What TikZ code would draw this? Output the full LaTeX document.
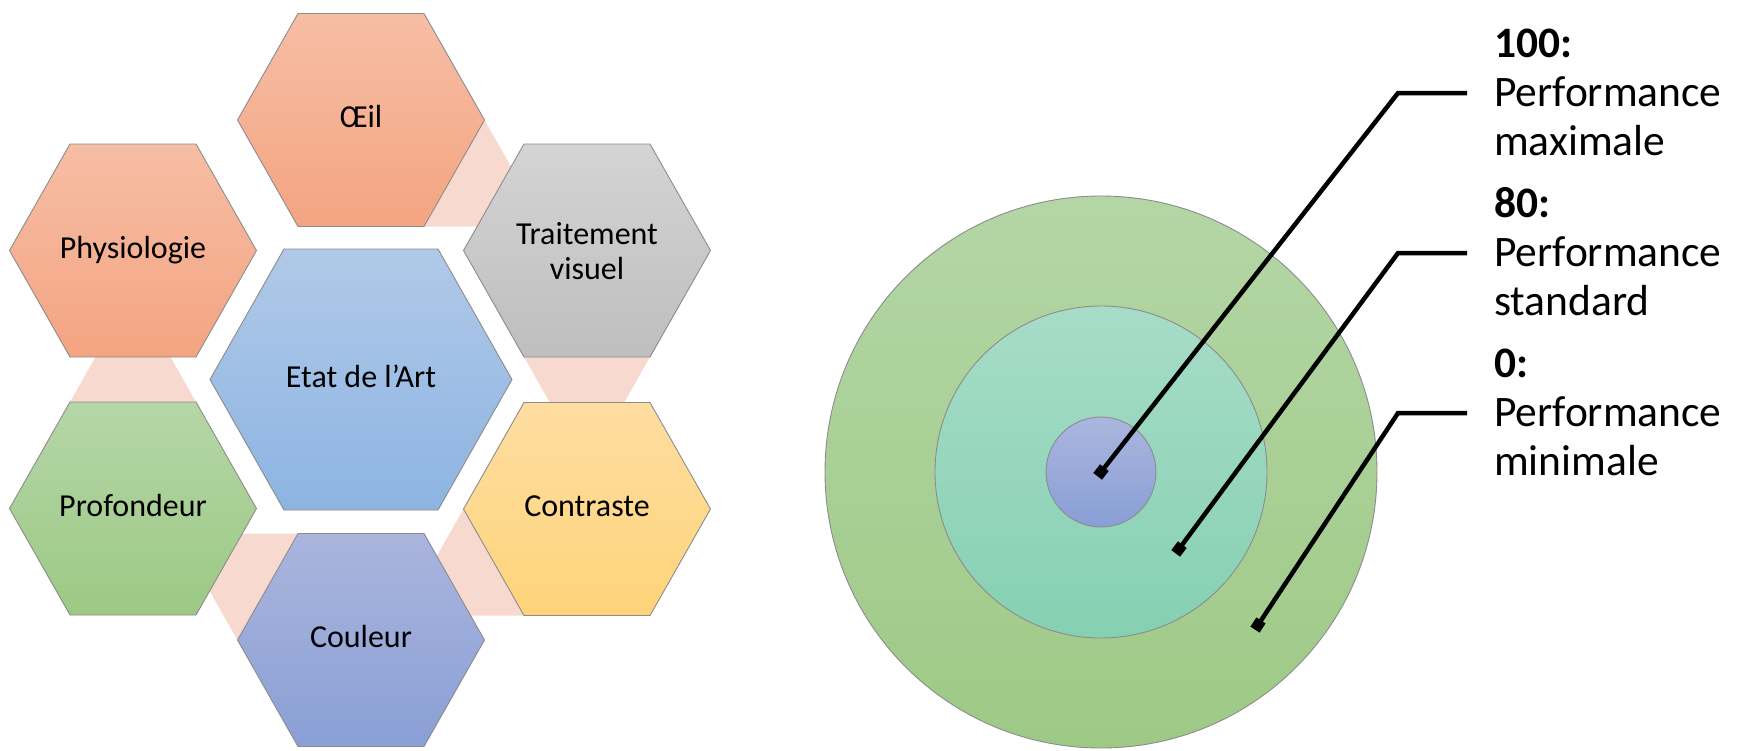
\documentclass[tikz,border=0pt]{standalone}
\usepackage{fontspec}
\setmainfont{Carlito}
\definecolor{salmonT}{HTML}{F6BEA5}
\definecolor{salmonB}{HTML}{F4A481}
\definecolor{grayT}{HTML}{D4D4D4}
\definecolor{grayB}{HTML}{BEBEBE}
\definecolor{blueT}{HTML}{B0C9E8}
\definecolor{blueB}{HTML}{8DB4E2}
\definecolor{yellowT}{HTML}{FEDDA1}
\definecolor{yellowB}{HTML}{FED47A}
\definecolor{greenT}{HTML}{B5D6A7}
\definecolor{greenB}{HTML}{9CC984}
\definecolor{violetT}{HTML}{AAB5DD}
\definecolor{violetB}{HTML}{8A9FD6}
\definecolor{linkpink}{HTML}{F8D9CF}
\definecolor{hexgray}{HTML}{8C8C8C}
\definecolor{outerT}{HTML}{B4D6A6}
\definecolor{outerB}{HTML}{9EC985}
\definecolor{midT}{HTML}{A7DCC8}
\definecolor{midB}{HTML}{85D0B2}
\definecolor{innerT}{HTML}{AAB6DE}
\definecolor{innerB}{HTML}{899ED6}
\newcommand{\hexagonpath}[6]{%
  \path[#1] ({#2-#4},{#3}) -- ({#2-#5},{#3-#6}) -- ({#2+#5},{#3-#6}) -- ({#2+#4},{#3})
    -- ({#2+#5},{#3+#6}) -- ({#2-#5},{#3+#6}) -- cycle;}
\begin{document}
\begin{tikzpicture}[x=1pt,y=-1pt,
  hexline/.style={draw=hexgray, line width=0.9pt},
  hextext/.style={font=\fontsize{32}{35}\selectfont, text height=21pt, text depth=6pt, inner sep=0},
  hextwo/.style={font=\fontsize{32}{35}\selectfont, inner sep=0, align=center},
  link/.style={fill=linkpink},
  ringline/.style={draw=hexgray, line width=0.9pt},
  callout/.style={line width=4.5pt, line join=miter},
  tipmark/.style={fill=black, shape=rectangle, minimum size=11pt, inner sep=0},
  labeltext/.style={font=\fontsize{43.5}{49}\selectfont, anchor=base west, inner sep=0}]
\useasboundingbox (0,0) rectangle (1761,750);
% pink links (behind)
\fill[link] (484.5,120) -- (545,226.5) -- (424,226.5) -- cycle;
\fill[link] (524,357) -- (650,357) -- (587,468) -- cycle;
\fill[link] (463.5,509) -- (524,615.5) -- (403,615.5) -- cycle;
\fill[link] (237.5,640) -- (298,533.5) -- (177,533.5) -- cycle;
\fill[link] (70,402) -- (196,402) -- (133,291) -- cycle;
% hexagons
\hexagonpath{hexline, top color=salmonT, bottom color=salmonB}{361}{120}{123.5}{63}{106.5}
\hexagonpath{hexline, top color=salmonT, bottom color=salmonB}{133}{250.5}{123.5}{63}{106.5}
\hexagonpath{hexline, top color=grayT, bottom color=grayB}{587}{250.5}{123.5}{63}{106.5}
\hexagonpath{hexline, top color=blueT, bottom color=blueB}{361}{379.5}{151}{77}{130.5}
\hexagonpath{hexline, top color=greenT, bottom color=greenB}{133}{508.5}{123.5}{63}{106.5}
\hexagonpath{hexline, top color=yellowT, bottom color=yellowB}{587}{509}{123.5}{63}{106.5}
\hexagonpath{hexline, top color=violetT, bottom color=violetB}{361}{640}{123.5}{63}{106.5}
\node[hextext] (oeil) at (361,120) {Œil};
\node[hextext] (phys) at (133,250.5) {Physiologie};
\node[hextwo] (trait) at (587,251.5) {Traitement\\visuel};
\node[hextext] (etat) at (361,379.5) {Etat de l’Art};
\node[hextext] (prof) at (133,508.5) {Profondeur};
\node[hextext] (contr) at (587,509) {Contraste};
\node[hextext] (coul) at (361,640) {Couleur};
% target circles
\coordinate (c0) at (1101,472);
\path[ringline, top color=outerT, bottom color=outerB] (c0) circle[radius=276pt];
\path[ringline, top color=midT, bottom color=midB] (c0) circle[radius=166pt];
\path[ringline, top color=innerT, bottom color=innerB] (c0) circle[radius=55pt];
% labels
\node[labeltext] (l1a) at (1494,57) {\textbf{100:}};
\node[labeltext] (l1b) at (1494,106) {Performance};
\node[labeltext] (l1c) at (1494,155) {maximale};
\node[labeltext] (l2a) at (1494,217) {\textbf{80:}};
\node[labeltext] (l2b) at (1494,266) {Performance};
\node[labeltext] (l2c) at (1494,315) {standard};
\node[labeltext] (l3a) at (1494,377) {\textbf{0:}};
\node[labeltext] (l3b) at (1494,426) {Performance};
\node[labeltext] (l3c) at (1494,475) {minimale};
% callouts
\coordinate (d1) at (1101,472);
\coordinate (e1) at (1398,93);
\coordinate (t1) at (1467,93);
\coordinate (d2) at (1179,549);
\coordinate (e2) at (1398,253);
\coordinate (t2) at (1467,253);
\coordinate (d3) at (1258,625);
\coordinate (e3) at (1398,413);
\coordinate (t3) at (1467,413);
\draw[callout] (d1) -- (e1) -- (t1);
\draw[callout] (d2) -- (e2) -- (t2);
\draw[callout] (d3) -- (e3) -- (t3);
\node[tipmark, rotate=52] (m1) at (d1) {};
\node[tipmark, rotate=53] (m2) at (d2) {};
\node[tipmark, rotate=57] (m3) at (d3) {};
\end{tikzpicture}
\end{document}
